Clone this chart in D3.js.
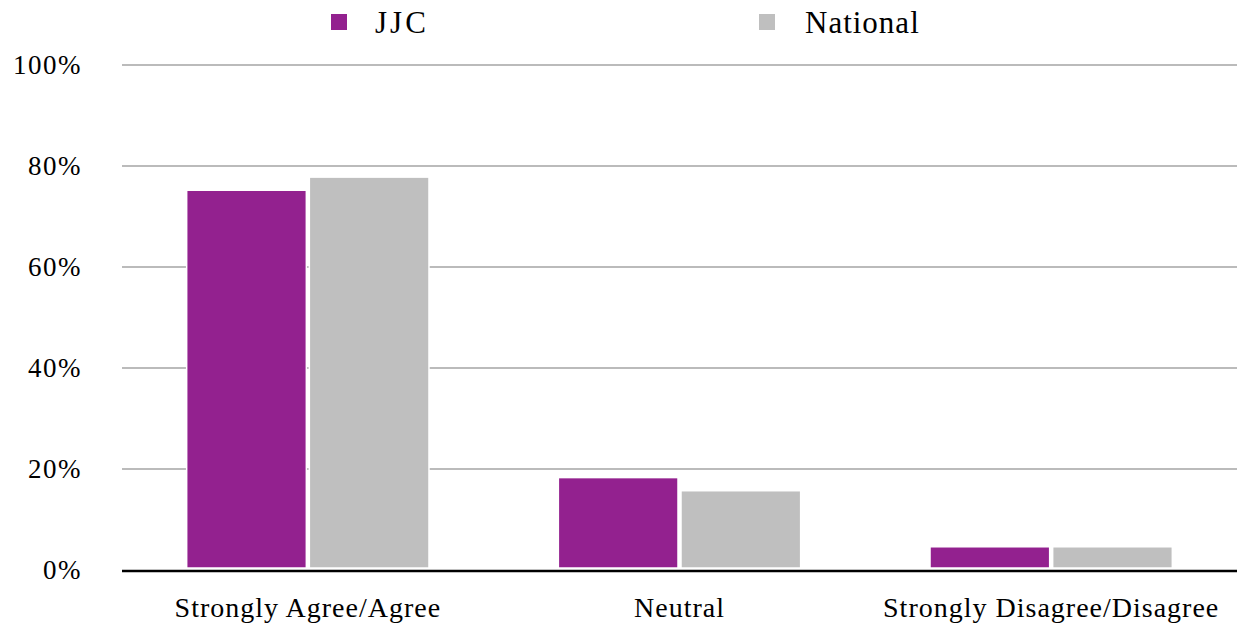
<!DOCTYPE html>
<html>
<head>
<meta charset="utf-8">
<script src="https://cdn.jsdelivr.net/npm/d3@7"></script>
<style>
body{margin:0;background:#fff;}
text{font-family:"Liberation Serif","Times New Roman",serif;fill:#000;}
</style>
</head>
<body>
<div id="chart"></div>
<script>
const categories=["Strongly Agree/Agree","Neutral","Strongly Disagree/Disagree"];
const seriesNames=["JJC","National"];
const jjc=[75.2,18.3,4.6];
const national=[77.8,15.7,4.6];
const ticks=[0,20,40,60,80,100];
const colors=["#93218f","#bfbfbf"];

const width=1239,height=627;
const margin={top:65,right:2,bottom:57,left:122};
const svg=d3.select("#chart").append("svg").attr("width",width).attr("height",height);

const x=d3.scaleBand().domain(categories).range([margin.left,width-margin.right]).paddingInner(0.34).paddingOuter(0.17);
const xs=d3.scaleBand().domain(seriesNames).range([0,x.bandwidth()]).paddingInner(0.0);
const y=d3.scaleLinear().domain([0,100]).range([height-margin.bottom,margin.top]);

// gridlines
svg.append("g").selectAll("line").data(ticks.filter(d=>d>0)).enter().append("line")
  .attr("x1",margin.left).attr("x2",width-margin.right)
  .attr("y1",d=>y(d)).attr("y2",d=>y(d))
  .attr("stroke","#bbbbbb").attr("stroke-width",2);

// tick labels
svg.append("g").selectAll("text").data(ticks).enter().append("text")
  .attr("x",82).attr("y",d=>y(d)+9)
  .attr("text-anchor","end").attr("font-size",27)
  .attr("letter-spacing",1.5)
  .text(d=>d+"%");

const data=categories.map((c,i)=>({cat:c,values:[{s:"JJC",v:jjc[i]},{s:"National",v:national[i]}]}));
const groups=svg.append("g").selectAll("g").data(data).enter().append("g")
  .attr("transform",d=>`translate(${x(d.cat)},0)`);
groups.selectAll("rect").data(d=>d.values).enter().append("rect")
  .attr("x",d=>xs(d.s)+1.5)
  .attr("width",xs.bandwidth()-3)
  .attr("y",d=>y(d.v))
  .attr("height",d=>y(0)-y(d.v)-2)
  .attr("fill",(d,i)=>colors[i])
  .attr("stroke","#fff").attr("stroke-width",1.5);

// baseline
svg.append("line").attr("x1",margin.left).attr("x2",width-margin.right)
  .attr("y1",y(0)+1).attr("y2",y(0)+1)
  .attr("stroke","#000").attr("stroke-width",2.5);

// category labels
svg.append("g").selectAll("text").data(categories).enter().append("text")
  .attr("x",d=>x(d)+x.bandwidth()/2).attr("y",617)
  .attr("text-anchor","middle").attr("font-size",28)
  .attr("letter-spacing",1)
  .text(d=>d);

// legend
const legendX=[331,759];
const leg=svg.append("g").selectAll("g").data(seriesNames).enter().append("g")
  .attr("transform",(d,i)=>`translate(${legendX[i]},0)`);
leg.append("rect").attr("x",0).attr("y",14).attr("width",16).attr("height",16)
  .attr("fill",(d,i)=>colors[i]);
leg.append("text").attr("x",(d,i)=>i===0?44:46).attr("y",33).attr("font-size",31)
  .attr("letter-spacing",(d,i)=>i===0?3:1)
  .text(d=>d);
</script>
</body>
</html>
